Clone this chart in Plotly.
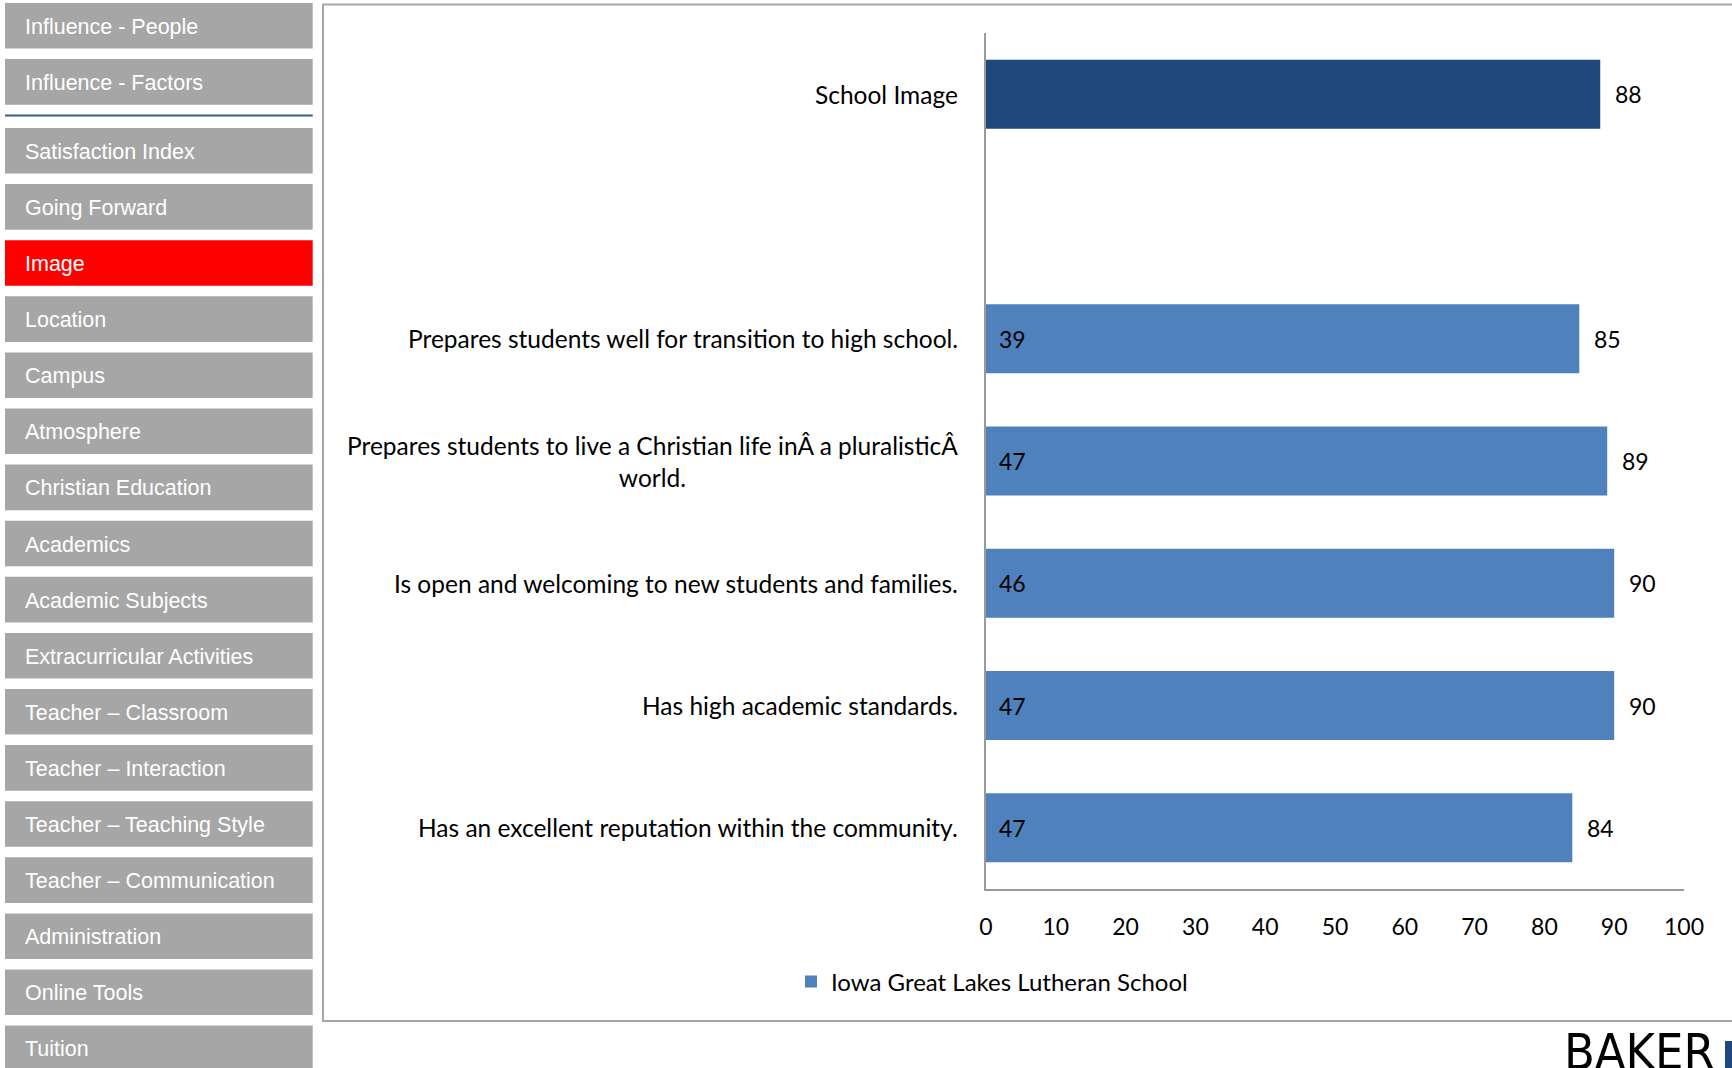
import plotly.graph_objects as go

# ---------------- data ----------------
categories = [
    "School Image",
    " ",
    "Prepares students well for transition to high school.",
    "Prepares students to live a Christian life inÂ a pluralisticÂ<br>world.",
    "Is open and welcoming to new students and families.",
    "Has high academic standards.",
    "Has an excellent reputation within the community.",
]
summary_category = ["School Image"]
summary_value = [88]
item_categories = categories[2:]
item_values = [85, 89, 90, 90, 84]
item_inner_values = [39, 47, 46, 47, 47]
series_name = "Iowa Great Lakes Lutheran School"
x_ticks = [0, 10, 20, 30, 40, 50, 60, 70, 80, 90, 100]

nav_top = ["Influence - People", "Influence - Factors"]
nav_bottom = ["Satisfaction Index", "Going Forward", "Image", "Location", "Campus",
              "Atmosphere", "Christian Education", "Academics", "Academic Subjects",
              "Extracurricular Activities", "Teacher – Classroom", "Teacher – Interaction",
              "Teacher – Teaching Style", "Teacher – Communication", "Administration",
              "Online Tools", "Tuition"]
nav_active = "Image"

# ---------------- layout geometry (pixels) ----------------
W, H = 1732, 1068
L, R, T, B = 986, 1684, 33, 889
PW, PH = R - L, B - T


def px(x):
    return (x - L) / PW


def py(y):
    return (B - y) / PH


DARK = "#1F497D"
LIGHT = "#4F81BD"
CHART_FONT = "Lato, 'Open Sans', sans-serif"
NAV_FONT = "'Liberation Sans', Arial, sans-serif"

fig = go.Figure()
fig.add_trace(go.Bar(
    y=summary_category, x=summary_value, orientation="h",
    marker=dict(color=DARK, line=dict(width=0)), showlegend=False,
    hoverinfo="x+y",
))
fig.add_trace(go.Bar(
    y=item_categories, x=item_values, orientation="h", name=series_name,
    marker=dict(color=LIGHT, line=dict(width=0)), showlegend=True,
))

annotations = []
# category labels
for c in categories:
    if c.strip():
        annotations.append(dict(
            x=0, xref="paper", y=c, yref="y", text=c, showarrow=False,
            xanchor="right", yanchor="middle", xshift=-26, align="center",
            font=dict(family=CHART_FONT, size=24.5, color="black"),
        ))
# outside value labels
for c, v in zip(summary_category + item_categories, summary_value + item_values):
    annotations.append(dict(
        x=v, xref="x", y=c, yref="y", text=str(v), showarrow=False,
        xanchor="left", yanchor="middle", xshift=13,
        font=dict(family=CHART_FONT, size=23, color="black"),
    ))
# inside value labels
for c, v in zip(item_categories, item_inner_values):
    annotations.append(dict(
        x=0, xref="x", y=c, yref="y", text=str(v), showarrow=False,
        xanchor="left", yanchor="middle", xshift=11,
        font=dict(family=CHART_FONT, size=23, color="black"),
    ))

shapes = []
# chart frame
shapes.append(dict(type="rect", xref="paper", yref="paper",
                   x0=px(323), x1=px(1760), y0=py(4.5), y1=py(1021),
                   line=dict(color="#A6A6A6", width=2), fillcolor="rgba(0,0,0,0)", layer="below"))

# sidebar navigation
BX0, BX1, BH = 5, 312.7, 45.6
nav_items = [(t, 3 + i * 56.1) for i, t in enumerate(nav_top)]
nav_items += [(t, 128 + i * 56.1) for i, t in enumerate(nav_bottom)]
for label, top in nav_items:
    color = "#FF0000" if label == nav_active else "#A6A6A6"
    shapes.append(dict(type="rect", xref="paper", yref="paper",
                       x0=px(BX0), x1=px(BX1), y0=py(top), y1=py(top + BH),
                       line=dict(width=0), fillcolor=color, layer="below"))
    annotations.append(dict(
        x=px(23), xref="paper", y=py(top + BH / 2 + 1), yref="paper", text=label,
        showarrow=False, xanchor="left", yanchor="middle",
        font=dict(family=NAV_FONT, size=21.5, color="white"),
    ))
# divider line
shapes.append(dict(type="line", xref="paper", yref="paper",
                   x0=px(BX0), x1=px(BX1), y0=py(115.5), y1=py(115.5),
                   line=dict(color="#385D8A", width=2)))

# BAKER logo text and mark
annotations.append(dict(
    x=px(1717), xref="paper", y=py(1052), yref="paper", text="BAKER",
    showarrow=False, xanchor="right", yanchor="middle",
    font=dict(family="'Liberation Sans Narrow', 'DejaVu Sans Condensed', Lato, sans-serif",
              size=50, color="black"),
))
shapes.append(dict(type="rect", xref="paper", yref="paper",
                   x0=px(1725), x1=px(1760), y0=py(1041), y1=py(1090),
                   line=dict(width=0), fillcolor=DARK))

fig.update_layout(
    width=W, height=H,
    margin=dict(l=L, r=W - R, t=T, b=H - B, pad=0),
    paper_bgcolor="white", plot_bgcolor="white",
    barmode="overlay", bargap=0.436,
    showlegend=True,
    legend=dict(orientation="h", x=px(791), xanchor="left", y=py(982), yanchor="middle",
                font=dict(family=CHART_FONT, size=24, color="black"),
                bgcolor="rgba(0,0,0,0)", borderwidth=0),
    xaxis=dict(range=[0, 100], tickvals=x_ticks, ticktext=[str(t) for t in x_ticks],
               showline=True, linecolor="#9A9A9A", linewidth=1.5,
               showgrid=False, zeroline=False, ticks="", ticklabelstandoff=17,
               tickfont=dict(family=CHART_FONT, size=23, color="black"), fixedrange=True),
    yaxis=dict(type="category", categoryorder="array", categoryarray=categories,
               range=[len(categories) - 0.5, -0.5],
               showline=True, linecolor="#9A9A9A", linewidth=1.5,
               showgrid=False, zeroline=False, ticks="", showticklabels=False, fixedrange=True),
    annotations=annotations,
    shapes=shapes,
)

fig.write_html(
    "out.html",
    config={"displayModeBar": False},
    post_script="document.body.style.margin='0';document.body.style.overflow='hidden';",
)
